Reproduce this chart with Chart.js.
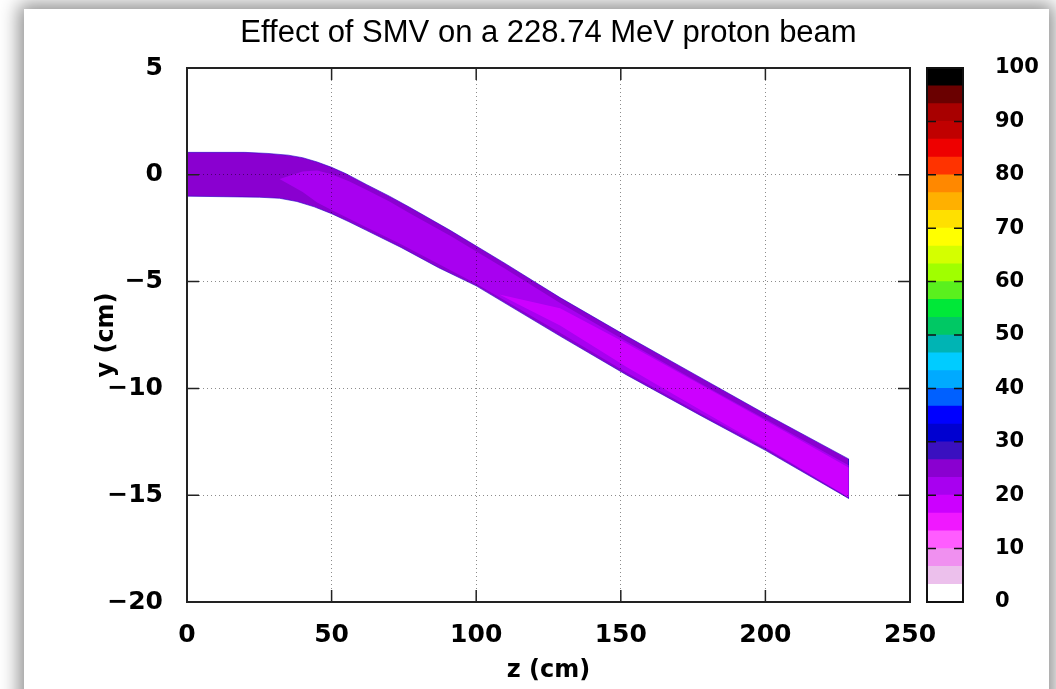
<!DOCTYPE html>
<html>
<head>
<meta charset="utf-8">
<script src="https://cdn.jsdelivr.net/npm/chart.js@4.4.1/dist/chart.umd.min.js"></script>
<style>
  html, body { margin:0; padding:0; background:#ffffff; width:1056px; height:689px; overflow:hidden; }
  #panel { position:absolute; left:24px; top:9px; width:1025px; height:700px; background:#ffffff;
           box-shadow: 0 0 18px 5px rgba(0,0,0,0.45); }
  canvas { position:absolute; left:0; top:0; }
</style>
</head>
<body>
<div id="panel"></div>
<canvas id="main" width="1056" height="689"></canvas>
<canvas id="cbar" width="1056" height="689"></canvas>
<script>
// ---- axis ticks ----
const xTicks = [0, 50, 100, 150, 200, 250];
const xTickLabels = ['0', '50', '100', '150', '200', '250'];
const yTicks = [-20, -15, -10, -5, 0, 5];
const yTickLabels = ['\u221220', '\u221215', '\u221210', '\u22125', '0', '5'];
const cbTicks = [0, 10, 20, 30, 40, 50, 60, 70, 80, 90, 100];
const cbTickLabels = ['0', '10', '20', '30', '40', '50', '60', '70', '80', '90', '100'];

// ---- beam outline (z in cm, y in cm) ----
const beamUpperZ = [0, 20, 28, 35, 40, 45, 50, 55, 62, 70, 77, 91, 110, 129, 152, 175, 200, 228.74];
const beamUpperY = [1.05, 1.05, 1.0, 0.92, 0.8, 0.6, 0.35, 0.05, -0.45, -1.0, -1.52, -2.6, -4.15, -5.75, -7.55, -9.3, -11.2, -13.3];
const beamLowerZ = [228.74, 200, 178, 152, 129, 100, 87, 74, 62, 56, 50, 44, 38, 32, 25, 0];
const beamLowerY = [-15.15, -12.9, -11.3, -9.37, -7.55, -5.2, -4.35, -3.4, -2.6, -2.2, -1.82, -1.5, -1.25, -1.1, -1.05, -1.0];

// ---- ~21 level region (lighter purple) ----
const midUpperZ = [32, 40, 45, 50, 56, 62, 70, 77, 91, 110, 129, 152, 178, 200, 228.74];
const midUpperY = [-0.2, 0.15, 0.2, 0.03, -0.3, -0.7, -1.25, -1.8, -2.85, -4.4, -6.0, -7.8, -9.8, -11.45, -13.6];
const midLowerZ = [228.74, 200, 178, 152, 129, 100, 74, 62, 50, 45, 40];
const midLowerY = [-15.1, -12.8, -11.2, -9.25, -7.4, -5.1, -3.25, -2.45, -1.65, -1.3, -0.8];

// ---- ~18 level core (magenta) ----
const coreUpperZ = [108, 129, 152, 178, 200, 228.74];
const coreUpperY = [-5.6, -6.25, -7.9, -9.85, -11.5, -13.7];
const coreLowerZ = [228.74, 200, 178, 152, 129, 115];
const coreLowerY = [-15.1, -12.75, -11.05, -9.0, -7.05, -6.1];

// ---- colour box levels and colours (bottom to top) ----
const cbLevels = [0, 3.33, 6.67, 10, 13.33, 16.67, 20, 23.33, 26.67, 30, 33.33, 36.67, 40, 43.33, 46.67,
                  50, 53.33, 56.67, 60, 63.33, 66.67, 70, 73.33, 76.67, 80, 83.33, 86.67, 90, 93.33, 96.67, 100];
const cbColors = ['#ffffff', '#ecc0ec', '#f090f0', '#ff5cff', '#f018ff', '#cc00ff', '#a800f0', '#8a00d0',
                  '#3a10c0', '#0000d0', '#0000ff', '#0060ff', '#00aaff', '#00ccff', '#00b4b4', '#00c864',
                  '#00e838', '#5af01e', '#a0ff00', '#d4ff00', '#ffff00', '#ffe000', '#ffb000', '#ff8800',
                  '#ff3300', '#ee0000', '#c00000', '#a80000', '#6a0000', '#000000'];

function poly(uz, uy, lz, ly) {
  const pts = [];
  uz.forEach((z, i) => pts.push({x: z, y: uy[i]}));
  lz.forEach((z, i) => pts.push({x: z, y: ly[i]}));
  pts.push({x: uz[0], y: uy[0]});
  return pts;
}

const TICKFONT = {family: 'DejaVu Sans', size: 25, weight: 'bold'};
const LABELFONT = {family: 'DejaVu Sans', size: 24, weight: 'bold'};

const mainFrame = {
  id: 'mainFrame',
  afterDraw(chart) {
    const {ctx, chartArea: a, scales} = chart;
    ctx.save();
    ctx.strokeStyle = '#222';
    ctx.lineWidth = 1.5;
    ctx.beginPath();
    xTicks.forEach(v => {
      const p = scales.x.getPixelForValue(v);
      ctx.moveTo(p, a.bottom); ctx.lineTo(p, a.bottom - 12);
      ctx.moveTo(p, a.top); ctx.lineTo(p, a.top + 12);
    });
    yTicks.forEach(v => {
      const p = scales.y.getPixelForValue(v);
      ctx.moveTo(a.left, p); ctx.lineTo(a.left + 12, p);
      ctx.moveTo(a.right, p); ctx.lineTo(a.right - 12, p);
    });
    ctx.stroke();
    ctx.lineWidth = 2;
    ctx.strokeRect(a.left, a.top, a.right - a.left, a.bottom - a.top);
    ctx.restore();
  }
};

new Chart(document.getElementById('main'), {
  type: 'line',
  data: {
    datasets: [
      {data: poly(coreUpperZ, coreUpperY, coreLowerZ, coreLowerY), fill: 'shape',
       backgroundColor: '#cc00ff', borderWidth: 0, pointRadius: 0, tension: 0},
      {data: poly(midUpperZ, midUpperY, midLowerZ, midLowerY), fill: 'shape',
       backgroundColor: '#a800f0', borderWidth: 0, pointRadius: 0, tension: 0},
      {data: poly(beamUpperZ, beamUpperY, beamLowerZ, beamLowerY), fill: 'shape',
       backgroundColor: '#8a00d0', borderColor: 'rgba(40,0,200,0.6)', borderWidth: 1, pointRadius: 0, tension: 0}
    ]
  },
  options: {
    responsive: false, animation: false, devicePixelRatio: 1,
    layout: {padding: {left: 90, right: 146, top: 0, bottom: 0}},
    plugins: {legend: {display: false}, tooltip: {enabled: false}},
    scales: {
      x: {
        type: 'linear', position: 'bottom', min: 0, max: 250,
        afterBuildTicks: s => { s.ticks = xTicks.map(v => ({value: v})); },
        ticks: {font: TICKFONT, color: '#000', padding: 18, maxRotation: 0,
                callback: v => { const i = xTicks.indexOf(v); return i >= 0 ? xTickLabels[i] : ''; }},
        grid: {color: 'rgba(0,0,0,0.45)', lineWidth: 1, drawTicks: false, z: 1},
        border: {display: false, dash: [1, 3]},
        title: {display: true, text: 'z (cm)', font: LABELFONT, color: '#000', padding: {top: 0, bottom: 4}},
        afterFit: s => { s.height = 87; }
      },
      x2: {
        type: 'linear', position: 'top', min: 0, max: 250,
        ticks: {display: false}, grid: {display: false}, border: {display: false},
        title: {display: true, text: 'Effect of SMV on a 228.74 MeV proton beam',
                font: {family: 'Liberation Sans', size: 31}, color: '#000', padding: {top: 15, bottom: 0}},
        afterFit: s => { s.height = 68; }
      },
      y: {
        type: 'linear', position: 'left', min: -20, max: 5,
        afterBuildTicks: s => { s.ticks = yTicks.map(v => ({value: v})); },
        ticks: {font: TICKFONT, color: '#000', padding: 24,
                callback: v => { const i = yTicks.indexOf(v); return i >= 0 ? yTickLabels[i] : ''; }},
        grid: {color: 'rgba(0,0,0,0.45)', lineWidth: 1, drawTicks: false, z: 1},
        border: {display: false, dash: [1, 3]},
        title: {display: true, text: 'y (cm)', font: LABELFONT, color: '#000', padding: {top: 2, bottom: 0}},
        afterFit: s => { s.width = 97; }
      }
    }
  },
  plugins: [mainFrame]
});

const cbFrame = {
  id: 'cbFrame',
  afterDraw(chart) {
    const {ctx, chartArea: a, scales} = chart;
    ctx.save();
    ctx.strokeStyle = '#111';
    ctx.lineWidth = 1.5;
    ctx.beginPath();
    cbTicks.forEach(v => {
      const p = scales.y.getPixelForValue(v);
      ctx.moveTo(a.left, p); ctx.lineTo(a.left + 9, p);
      ctx.moveTo(a.right, p); ctx.lineTo(a.right - 9, p);
    });
    ctx.stroke();
    ctx.lineWidth = 2;
    ctx.strokeRect(a.left, a.top, a.right - a.left, a.bottom - a.top);
    ctx.restore();
  }
};

new Chart(document.getElementById('cbar'), {
  type: 'bar',
  data: {
    labels: ['cb'],
    datasets: cbColors.map((c, i) => ({
      data: [[cbLevels[i], cbLevels[i + 1]]], backgroundColor: c, borderWidth: 0,
      grouped: false, barPercentage: 1, categoryPercentage: 1
    }))
  },
  options: {
    responsive: false, animation: false, devicePixelRatio: 1,
    layout: {padding: {left: 927, right: 0, top: 68, bottom: 87}},
    plugins: {legend: {display: false}, tooltip: {enabled: false}},
    scales: {
      x: {display: false},
      y: {
        position: 'right', min: 0, max: 100,
        afterBuildTicks: s => { s.ticks = cbTicks.map(v => ({value: v})); },
        ticks: {font: {family: 'DejaVu Sans', size: 21, weight: 'bold'}, color: '#000', padding: 32,
                callback: v => { const i = cbTicks.indexOf(v); return i >= 0 ? cbTickLabels[i] : ''; }},
        grid: {display: false, drawTicks: false},
        border: {display: false},
        afterFit: s => { s.width = 93; }
      }
    }
  },
  plugins: [cbFrame]
});
</script>
</body>
</html>
